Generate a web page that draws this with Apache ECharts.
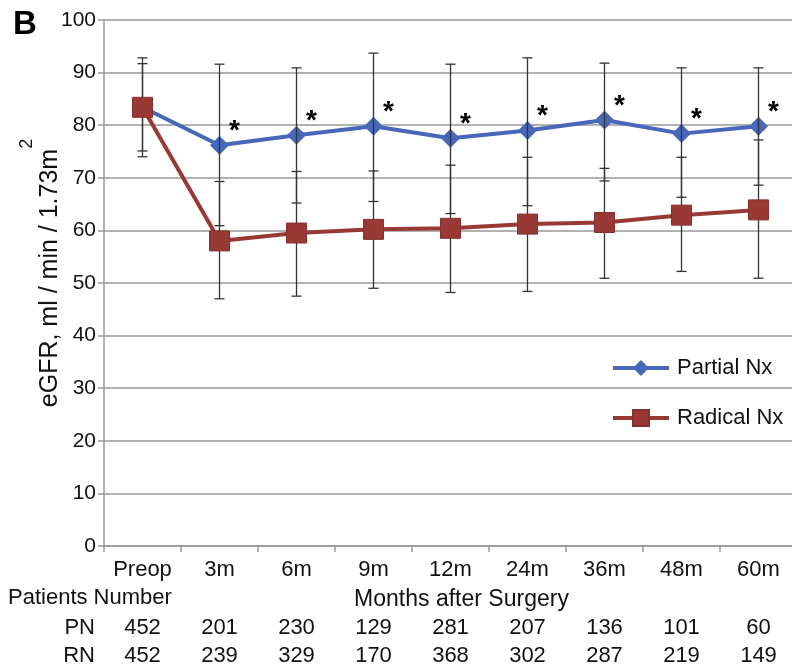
<!DOCTYPE html>
<html>
<head>
<meta charset="utf-8">
<script src="https://cdn.jsdelivr.net/npm/echarts@6/dist/echarts.min.js"></script>
<style>
html,body{margin:0;padding:0;background:#fff;}
#chart{width:792px;height:670px;}
</style>
</head>
<body>
<div id="chart"></div>
<script>
var categories = ['Preop', '3m', '6m', '9m', '12m', '24m', '36m', '48m', '60m'];
var pnMean = [83.4, 76.2, 78.1, 79.8, 77.5, 79.0, 81.0, 78.4, 79.8];
var pnLow  = [74.0, 60.9, 65.2, 65.5, 63.2, 64.7, 69.4, 66.3, 68.6];
var pnHigh = [92.8, 91.6, 90.9, 93.7, 91.6, 92.8, 91.8, 90.9, 90.9];
var rnMean = [83.4, 58.0, 59.5, 60.2, 60.4, 61.2, 61.5, 62.9, 63.9];
var rnLow  = [75.1, 47.0, 47.5, 49.0, 48.2, 48.4, 50.9, 52.2, 50.9];
var rnHigh = [91.7, 69.3, 71.2, 71.3, 72.4, 73.9, 71.8, 73.9, 77.2];
var pnCount = ['452', '201', '230', '129', '281', '207', '136', '101', '60'];
var rnCount = ['452', '239', '329', '170', '368', '302', '287', '219', '149'];
var significant = [false, true, true, true, true, true, true, true, true];

var FONT = "'Liberation Sans', Arial, sans-serif";
var BLUE = '#4767bb';
var RED = '#993936';
var GRID = '#999999';

function errorBars(low, high) {
  return {
    type: 'custom',
    xAxisIndex: 0,
    yAxisIndex: 0,
    silent: true,
    z: 3,
    data: categories.map(function (c, i) { return [i, low[i], high[i]]; }),
    encode: { x: 0, y: [1, 2] },
    renderItem: function (params, api) {
      var i = api.value(0);
      var top = api.coord([i, api.value(2)]);
      var bot = api.coord([i, api.value(1)]);
      var w = 5;
      var st = { stroke: '#333333', lineWidth: 1.3 };
      return {
        type: 'group',
        children: [
          { type: 'line', shape: { x1: top[0], y1: top[1], x2: bot[0], y2: bot[1] }, style: st },
          { type: 'line', shape: { x1: top[0] - w, y1: top[1], x2: top[0] + w, y2: top[1] }, style: st },
          { type: 'line', shape: { x1: bot[0] - w, y1: bot[1], x2: bot[0] + w, y2: bot[1] }, style: st }
        ]
      };
    }
  };
}

function countAxis(data, label, offset) {
  return {
    type: 'category',
    data: data,
    position: 'bottom',
    offset: offset,
    axisLine: { show: false },
    axisTick: { show: false },
    splitLine: { show: false },
    axisLabel: { interval: 0, fontSize: 22, color: '#111', margin: 0, verticalAlign: 'middle', fontFamily: FONT },
    name: label,
    nameLocation: 'start',
    nameGap: 9,
    nameMoveOverlap: false,
    nameTextStyle: { fontSize: 22, color: '#111', fontFamily: FONT, verticalAlign: 'middle' }
  };
}

var chart = echarts.init(document.getElementById('chart'), null, { renderer: 'canvas' });
chart.setOption({
  animation: false,
  backgroundColor: '#ffffff',
  textStyle: { fontFamily: FONT },
  grid: { left: 104, top: 20, width: 693, height: 526, containLabel: false, outerBoundsMode: 'none' },
  legend: {
    orient: 'vertical',
    left: 606,
    top: 352,
    itemWidth: 56,
    itemHeight: 20,
    itemGap: 28,
    lineStyle: { width: 4 },
    textStyle: { fontSize: 22, color: '#111', fontFamily: FONT, padding: [0, 0, 0, 3] },
    data: ['Partial Nx', 'Radical Nx']
  },
  xAxis: [
    {
      type: 'category',
      data: categories,
      boundaryGap: true,
      position: 'bottom',
      axisLine: { lineStyle: { color: GRID, width: 1.5 } },
      axisTick: { show: true, interval: 0, length: 6, lineStyle: { color: GRID, width: 1.5 } },
      axisLabel: { interval: 0, fontSize: 22, color: '#111', margin: 13, fontFamily: FONT },
      name: 'Months after Surgery',
      nameLocation: 'middle',
      nameGap: 42,
      nameMoveOverlap: false,
      nameTextStyle: { fontSize: 23, color: '#111', fontFamily: FONT, padding: [0, 0, 0, 22] }
    },
    countAxis(pnCount, 'PN', 82),
    countAxis(rnCount, 'RN', 110)
  ],
  yAxis: {
    type: 'value',
    min: 0,
    max: 100,
    interval: 10,
    axisLine: { show: true, lineStyle: { color: GRID, width: 1.5 } },
    axisTick: { show: true, length: 6, lineStyle: { color: GRID, width: 1.5 } },
    axisLabel: { fontSize: 21, color: '#111', margin: 8, fontFamily: FONT },
    splitLine: { show: true, lineStyle: { color: GRID, width: 1.5 } },
    name: 'eGFR, ml / min / 1.73m{sup|2}',
    nameLocation: 'middle',
    nameGap: 22,
    nameRotate: 90,
    nameMoveOverlap: false,
    nameTextStyle: {
      fontSize: 25,
      color: '#111',
      fontFamily: FONT,
      padding: [0, 0, 0, 20],
      rich: {
        sup: { fontSize: 18, color: '#111', fontFamily: FONT, verticalAlign: 'top', padding: [0, 0, 46, 0] }
      }
    }
  },
  graphic: [
    {
      type: 'text',
      left: 13,
      top: 8,
      style: { text: 'B', fontSize: 33, fontWeight: 'bold', fill: '#000', fontFamily: FONT }
    },
    {
      type: 'text',
      left: 8,
      top: 587,
      style: { text: 'Patients Number', fontSize: 22, fill: '#111', fontFamily: FONT }
    }
  ],
  series: [
    {
      name: 'Partial Nx',
      type: 'line',
      data: pnMean,
      z: 2,
      symbol: 'diamond',
      symbolSize: 19,
      lineStyle: { color: BLUE, width: 4 },
      itemStyle: { color: BLUE },
      label: {
        show: true,
        position: 'right',
        distance: 0,
        offset: [0, -14],
        fontSize: 28,
        fontWeight: 'bold',
        color: '#000',
        fontFamily: FONT,
        formatter: function (p) { return significant[p.dataIndex] ? '*' : ''; }
      }
    },
    errorBars(pnLow, pnHigh),
    errorBars(rnLow, rnHigh),
    {
      name: 'Radical Nx',
      type: 'line',
      data: rnMean,
      z: 4,
      symbol: 'rect',
      symbolSize: 20,
      lineStyle: { color: RED, width: 4 },
      itemStyle: { color: RED, borderColor: '#86302d', borderWidth: 1 }
    }
  ]
});
</script>
</body>
</html>
